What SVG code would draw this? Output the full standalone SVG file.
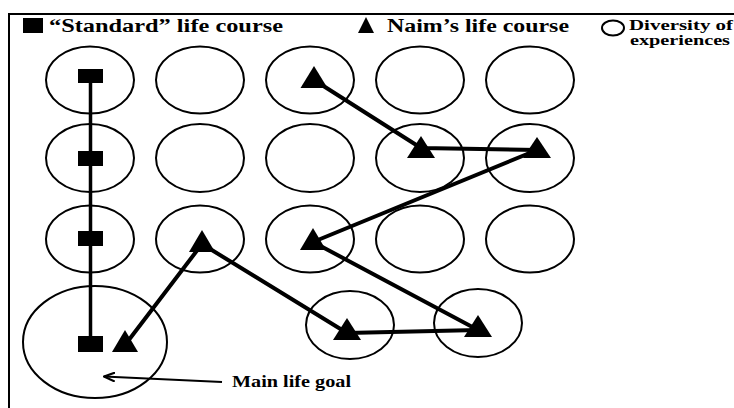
<svg xmlns="http://www.w3.org/2000/svg" width="734" height="408" viewBox="0 0 734 408">
  <style>
    .cell { fill: none; stroke: #000; stroke-width: 2; }
    .sq { fill: #000; }
    .tri { fill: #000; }
    .path { fill: none; stroke: #000; stroke-width: 4; stroke-linejoin: round; }
    .lbl { font-family: 'Liberation Serif', 'DejaVu Serif', 'Times New Roman', serif; font-weight: 700; fill: #000; }
  </style>
  <defs>
    <marker id="head" viewBox="0 0 12 10" refX="11" refY="5" markerWidth="12" markerHeight="10" markerUnits="userSpaceOnUse" orient="auto">
      <path d="M0,0.5 L11,5 L0,9.5" fill="none" stroke="#000" stroke-width="2.2"/>
    </marker>
  </defs>
  <rect width="734" height="408" fill="#fff"/>

  <!-- frame (top and left edge) -->
  <path d="M9,408 V14 H734" fill="none" stroke="#000" stroke-width="2"/>

  <!-- legend -->
  <g id="legend">
    <rect x="23" y="18" width="20" height="15" class="sq"/>
    <text x="49" y="32" class="lbl" font-size="18.5" textLength="234" lengthAdjust="spacingAndGlyphs">“Standard” life course</text>
    <path d="M366,17 L374,33 L358,33 Z" class="tri"/>
    <text x="387" y="32" class="lbl" font-size="18.5" textLength="182" lengthAdjust="spacingAndGlyphs">Naim’s life course</text>
    <ellipse cx="613" cy="28" rx="11" ry="7.5" class="cell"/>
    <text x="629" y="30" class="lbl" font-size="14" textLength="104" lengthAdjust="spacingAndGlyphs">Diversity of</text>
    <text x="630" y="45" class="lbl" font-size="14" textLength="100" lengthAdjust="spacingAndGlyphs">experiences</text>
  </g>

  <!-- grid of experiences -->
  <g id="experiences">
    <ellipse cx="90" cy="80" rx="44" ry="33.5" class="cell"/>
    <ellipse cx="200" cy="80" rx="44" ry="33.5" class="cell"/>
    <ellipse cx="310" cy="80" rx="44" ry="33.5" class="cell"/>
    <ellipse cx="420" cy="80" rx="44" ry="33.5" class="cell"/>
    <ellipse cx="530" cy="80" rx="44" ry="33.5" class="cell"/>
    <ellipse cx="90" cy="158" rx="44" ry="34" class="cell"/>
    <ellipse cx="200" cy="158" rx="44" ry="34" class="cell"/>
    <ellipse cx="310" cy="158" rx="44" ry="34" class="cell"/>
    <ellipse cx="420" cy="158" rx="44" ry="34" class="cell"/>
    <ellipse cx="530" cy="158" rx="44" ry="34" class="cell"/>
    <ellipse cx="90" cy="239" rx="44" ry="33.5" class="cell"/>
    <ellipse cx="200" cy="239" rx="44" ry="33.5" class="cell"/>
    <ellipse cx="310" cy="239" rx="44" ry="33.5" class="cell"/>
    <ellipse cx="420" cy="239" rx="44" ry="33.5" class="cell"/>
    <ellipse cx="530" cy="239" rx="44" ry="33.5" class="cell"/>
    <ellipse cx="350" cy="325" rx="44" ry="34" class="cell"/>
    <ellipse cx="478" cy="323" rx="44" ry="34" class="cell"/>
  </g>

  <g id="goal">
    <ellipse cx="95" cy="342" rx="72" ry="56" class="cell"/>
  </g>

  <!-- connectors -->
  <g id="connectors">
    <line x1="90.5" y1="76" x2="90.5" y2="344" stroke="#000" stroke-width="3.5"/>
    <polyline class="path" points="125,345 202,244 347,333 478,330 313,242 537,150 421,148 314,80"/>
    <line x1="222" y1="382" x2="104" y2="376.5" stroke="#000" stroke-width="2.2" marker-end="url(#head)"/>
  </g>

  <!-- standard life course -->
  <g id="standard">
    <rect x="78" y="69" width="25" height="14" class="sq"/>
    <rect x="78" y="151" width="25" height="15" class="sq"/>
    <rect x="78" y="231" width="25" height="15" class="sq"/>
    <rect x="78" y="336" width="25" height="16" class="sq"/>
  </g>

  <!-- Naim's life course -->
  <g id="naim">
    <path d="M314,66 L327.5,88 L300.5,88 Z" class="tri"/>
    <path d="M421,136 L435,158 L407,158 Z" class="tri"/>
    <path d="M537,137 L551,158 L523,158 Z" class="tri"/>
    <path d="M202,230 L215,252 L189,252 Z" class="tri"/>
    <path d="M313,228 L326,250 L300,250 Z" class="tri"/>
    <path d="M347,318 L361,340 L333,340 Z" class="tri"/>
    <path d="M478,315 L492,337 L464,337 Z" class="tri"/>
    <path d="M125,330 L138,352 L112,352 Z" class="tri"/>
  </g>

  <g id="goal-label">
    <text x="232" y="387" class="lbl" font-size="16.5" textLength="119" lengthAdjust="spacingAndGlyphs">Main life goal</text>
  </g>
</svg>
